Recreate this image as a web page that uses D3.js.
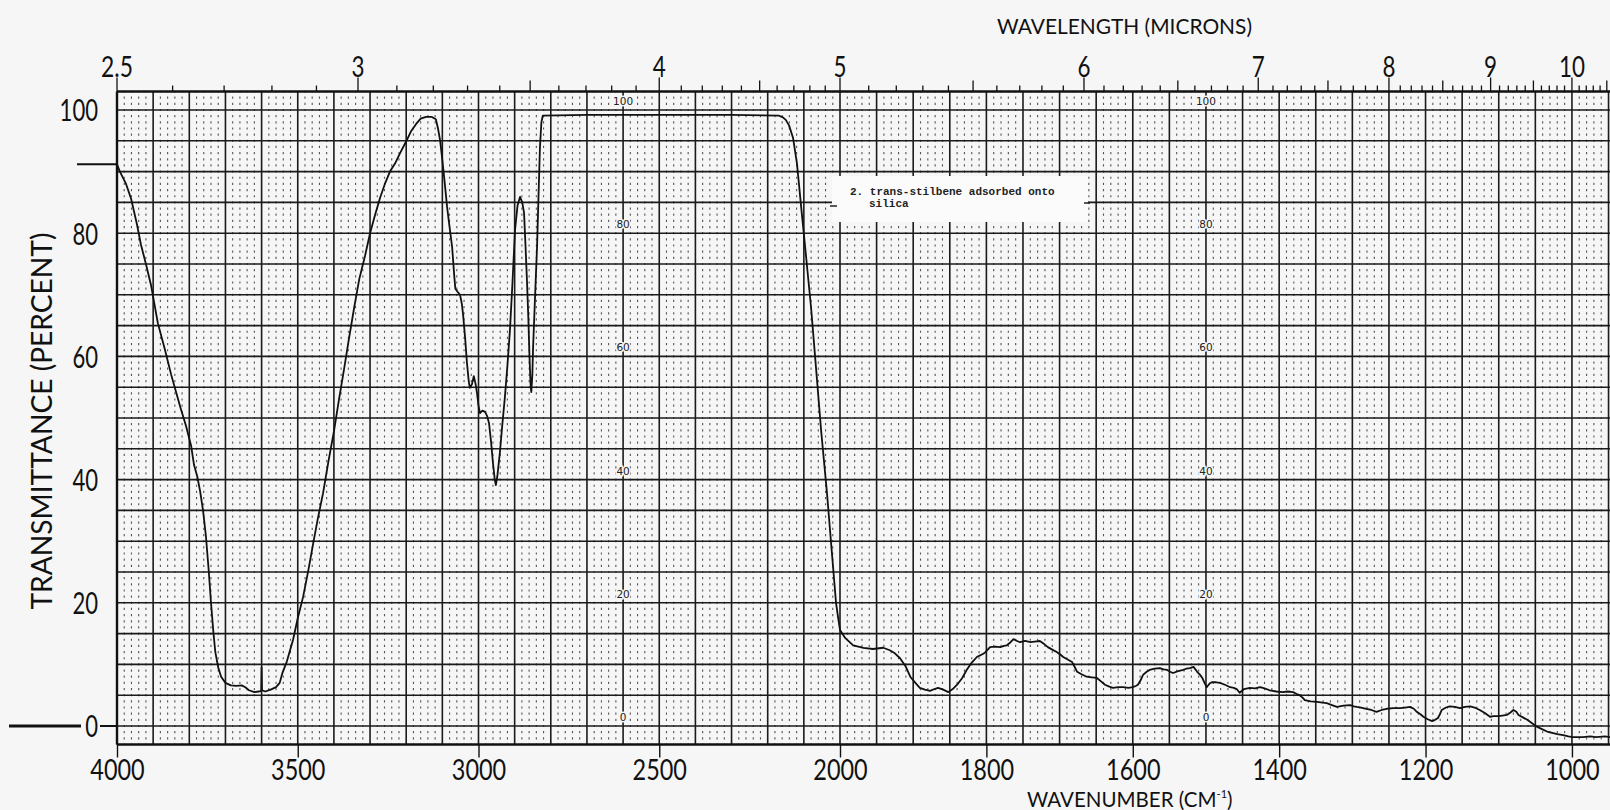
<!DOCTYPE html>
<html><head><meta charset="utf-8">
<script src="https://cdn.jsdelivr.net/npm/d3@7"></script>
<style>html,body{margin:0;padding:0;background:#f6f6f6;overflow:hidden;}svg{display:block;}</style>
</head><body>
<svg id="c" width="1610" height="810"></svg>
<script>
// ---------- data ----------
const wavenumbers = [4000,3992,3975,3961,3945,3934,3920,3906,3887,3867,3850,3840,3825,3809,3795,3787,3778,3770,3762,3754,3746,3740,3733,3728,3720,3712,3700,3685,3670,3655,3645,3635,3620,3608,3601,3600,3599,3590,3575,3560,3550,3543,3530,3513,3500,3485,3470,3458,3445,3430,3415,3400,3386,3372,3358,3344,3330,3314,3300,3286,3272,3259,3245,3231,3217,3201,3187,3173,3160,3145,3130,3118,3112,3106,3101,3094,3087,3080,3073,3067,3064,3058,3051,3046,3043,3037,3032,3027,3024,3018,3013,3008,3004,3000,2996,2989,2982,2976,2971,2965,2960,2955,2952,2948,2941,2934,2927,2920,2913,2906,2899,2892,2885,2879,2874,2870,2866,2862,2859,2856,2854,2851,2849,2844,2838,2834,2830,2826,2822,2700,2500,2300,2170,2158,2150,2141,2130,2119,2108,2094,2080,2066,2052,2036,2022,2011,2005,2000,1993,1982,1968,1955,1941,1932,1925,1918,1910,1904,1897,1891,1884,1877,1871,1866,1859,1852,1846,1840,1833,1827,1820,1813,1808,1802,1795,1788,1781,1776,1772,1767,1763,1758,1754,1747,1740,1734,1727,1721,1716,1710,1704,1699,1695,1689,1683,1679,1676,1670,1663,1656,1649,1643,1638,1632,1627,1620,1613,1606,1600,1596,1593,1589,1586,1581,1577,1570,1563,1558,1553,1549,1545,1538,1531,1527,1522,1517,1512,1508,1505,1502,1499,1495,1492,1486,1481,1474,1467,1462,1458,1454,1448,1440,1433,1426,1420,1413,1404,1395,1388,1381,1376,1372,1368,1365,1357,1348,1341,1335,1328,1321,1312,1303,1298,1294,1288,1281,1274,1267,1260,1253,1244,1235,1228,1221,1216,1212,1207,1203,1197,1191,1187,1183,1180,1178,1172,1167,1160,1153,1146,1139,1133,1126,1119,1112,1107,1101,1095,1089,1084,1080,1076,1073,1067,1061,1055,1048,1041,1034,1027,1020,1012,1005,999,985,975,967,955,948];
const transmittance = [91.2,90,88,85.6,81.5,78.2,75,71.6,65.4,61,57,54.9,51.8,48.7,45.5,42.4,40.5,38.1,35,30.8,25,20,15,12,9.5,8,7,6.6,6.5,6.6,6.3,5.8,5.5,5.6,5.7,9.5,5.8,5.6,5.9,6.3,7,8.5,10.5,14,17.5,21,25.5,29.4,33.5,37.8,43,47.8,53,57.9,63,67.9,72.5,76.3,80,83,85.8,88,90,91.3,93,94.8,96.5,97.7,98.6,98.9,98.9,98.5,97,95,92.4,88.5,84.3,81,77.8,73,71,70.5,70,68.5,67,63,59,56,54.9,55.5,56.8,55.5,54,52,50.8,51.2,51,50.3,49.2,46,42.7,40,39.1,40.5,44.3,49,53.4,58.5,64.3,72,80.5,84.5,85.9,85,83.3,78,72.4,66,60,55.5,54.2,57,61.5,69,77.8,86,94,98,99.1,99.2,99.2,99.2,99.1,98.8,98.4,97.5,95.5,91.3,84.6,76.3,67.9,57.9,47.8,37.8,27.8,20,17.5,15.6,14.3,13.1,12.7,12.5,12.7,12.3,11.8,11,9.6,8,7,6.2,5.9,5.7,6,6.2,5.9,5.5,6,6.7,7.8,9.1,10.3,11.2,11.5,11.9,12.8,12.9,12.8,13,13.1,13.6,14.1,13.8,13.6,13.8,13.6,13.7,13.8,13.3,12.8,12.4,12,11.6,11.2,10.8,10.4,9.5,8.8,8.4,8,7.9,7.8,7.2,6.7,6.4,6.2,6.3,6.3,6.2,6.3,6.5,6.7,7.5,8.3,8.8,9.1,9.3,9.4,9.2,9.1,8.8,8.6,8.9,9.1,9.3,9.4,9.6,8.8,8.3,7.8,7,6.3,6.9,7.1,7.1,7,6.7,6.3,6.2,6,5.4,6,6.2,6.1,6.3,6.1,5.8,5.6,5.5,5.6,5.5,5.2,5,4.6,4.2,4,3.9,3.8,3.7,3.4,3.1,3.3,3.4,3.2,3.1,3,2.8,2.6,2.3,2.6,2.8,2.9,2.9,3,3.1,2.8,2.3,1.9,1.5,1.1,0.8,1,1.3,2,2.6,3,3.2,3.1,2.9,3.1,3.2,3,2.6,2.1,1.5,1.6,1.6,1.7,1.8,2.2,2.6,2.3,1.8,1.4,1,0.5,-0.1,-0.5,-0.9,-1.1,-1.3,-1.5,-1.7,-1.8,-1.8,-1.7,-1.8,-1.7,-1.8];
const wavenumberTicks = [4000,3500,3000,2500,2000,1800,1600,1400,1200,1000];
const micronLabels = [2.5,3,4,5,6,7,8,9,10];
const percentTicks = [0,20,40,60,80,100];
const chartScaleLabels = [0,20,40,60,80,100];
const chartScaleColumns = [2600,1500];
const sampleLabel = ["2. trans-stilbene adsorbed onto","silica"];

// ---------- scales ----------
const svg = d3.select("#c");
const x = d3.scaleLinear().domain([4000,2000,948]).range([117,840,1610]);
const y = d3.scaleLinear().domain([0,100]).range([726,110]);
const yTop = y(103), yBot = y(-3);
const FONT = "Lato, 'Open Sans', sans-serif";
// narrow numeral width (the chart's numerals are condensed)
const numLen = (s,w) => String(s).split("").reduce((a,c)=>a+(c==="."?0.45*w:w),0);

svg.append("rect").attr("width",1610).attr("height",810).attr("fill","#f6f6f6");

// minor dotted verticals
const majorV = d3.range(4000,2000,-100).concat(d3.range(2000,947,-50));
const minorV = d3.range(4000,2000,-20).concat(d3.range(2000,947,-10)).filter(v=>!majorV.includes(v));
const step = y(0)-y(1);
svg.append("g").selectAll("line").data(minorV).join("line")
  .attr("x1",d=>x(d)).attr("x2",d=>x(d)).attr("y1",yTop).attr("y2",yBot)
  .attr("stroke","#555").attr("stroke-width",1.1)
  .attr("stroke-dasharray",`2.2 ${(step-2.2).toFixed(2)}`)
  .attr("stroke-dashoffset",-(step-1.1));

// major grid
const gMaj = svg.append("g").attr("stroke","#1b1b1b").attr("stroke-width",1.6);
gMaj.selectAll("line.v").data(majorV).join("line").attr("class","v")
  .attr("x1",d=>x(d)).attr("x2",d=>x(d)).attr("y1",yTop).attr("y2",yBot);
gMaj.selectAll("line.h").data(d3.range(0,101,5)).join("line").attr("class","h")
  .attr("x1",x(4000)).attr("x2",1610).attr("y1",d=>y(d)).attr("y2",d=>y(d));

// frame
const gF = svg.append("g").attr("stroke","#111").attr("stroke-width",2.4);
gF.append("line").attr("x1",x(4000)).attr("x2",1610).attr("y1",yTop).attr("y2",yTop);
gF.append("line").attr("x1",x(4000)).attr("x2",1610).attr("y1",yBot).attr("y2",yBot);
gF.append("line").attr("x1",x(4000)).attr("x2",x(4000)).attr("y1",yTop).attr("y2",yBot);

// inner chart-scale labels
chartScaleColumns.forEach(c=>{
  svg.append("g").selectAll("text").data(chartScaleLabels).join("text")
    .attr("x",x(c)).attr("y",d=>y(d)-9).attr("text-anchor","middle").attr("dominant-baseline","central")
    .attr("font-family","'DejaVu Sans', sans-serif").attr("font-size",10.5).attr("fill","#222")
    .attr("stroke","#f6f6f6").attr("stroke-width",3).attr("paint-order","stroke")
    .text(d=>d);
});

// sample label box
svg.append("rect").attr("x",832).attr("y",176).attr("width",256).attr("height",46).attr("fill","#fbfbfb");
svg.append("line").attr("x1",830).attr("x2",837).attr("y1",206).attr("y2",206).attr("stroke","#222").attr("stroke-width",1.5);
svg.append("line").attr("x1",1084).attr("x2",1090).attr("y1",203).attr("y2",203).attr("stroke","#222").attr("stroke-width",1.5);
svg.append("g").selectAll("text").data(sampleLabel).join("text")
  .attr("x",(d,i)=>i===0?850:869).attr("y",(d,i)=>195+i*12)
  .attr("font-family","'Liberation Mono', monospace").attr("font-weight","bold").attr("font-size",11).attr("fill","#222")
  .text(d=>d);

// trace
const pts = wavenumbers.map((w,i)=>[w,transmittance[i]]);
svg.append("path").datum(pts)
  .attr("d",d3.line().x(d=>x(d[0])).y(d=>y(d[1])))
  .attr("fill","none").attr("stroke","#111").attr("stroke-width",1.8).attr("stroke-linejoin","round");

// left start marker and zero marker
svg.append("line").attr("x1",77).attr("x2",x(4000)).attr("y1",y(transmittance[0])).attr("y2",y(transmittance[0]))
  .attr("stroke","#111").attr("stroke-width",2);
svg.append("line").attr("x1",9).attr("x2",81).attr("y1",y(0)).attr("y2",y(0)).attr("stroke","#111").attr("stroke-width",3);
svg.append("line").attr("x1",100).attr("x2",x(4000)).attr("y1",y(0)).attr("y2",y(0)).attr("stroke","#111").attr("stroke-width",2);

// bottom axis
const bAxis = d3.axisBottom(x).tickValues(wavenumberTicks).tickSize(13).tickPadding(4).tickFormat(d3.format("d"));
const gb = svg.append("g").attr("transform",`translate(0,${yBot})`).call(bAxis);
gb.select(".domain").remove();
gb.selectAll(".tick line").attr("stroke","#111").attr("stroke-width",1.4);
gb.selectAll(".tick text").attr("font-family",FONT).attr("font-size",28).attr("fill","#111")
  .attr("dy",null).attr("y",36)
  .attr("textLength",d=>numLen(d3.format("d")(d),13.6)).attr("lengthAdjust","spacingAndGlyphs");

// left axis
const lAxis = d3.axisLeft(y).tickValues(percentTicks).tickSize(0).tickPadding(0);
const gl = svg.append("g").attr("transform","translate(99,0)").call(lAxis);
gl.select(".domain").remove();
gl.selectAll(".tick text").attr("font-family",FONT).attr("font-size",30).attr("fill","#111")
  .attr("x",-1).attr("dy","0.36em")
  .attr("textLength",d=>numLen(d,12.8)).attr("lengthAdjust","spacingAndGlyphs");

// top micron ticks
const microns = d3.range(25,106).map(v=>v/10).filter(l=>1e4/l>=948);
svg.append("g").selectAll("line").data(microns).join("line")
  .attr("x1",d=>x(1e4/d)).attr("x2",d=>x(1e4/d)).attr("y1",yTop)
  .attr("y2",d=>{const t=Math.round(d*10); return yTop-(t%10===0||t===25?14:(t%5===0?11:6));})
  .attr("stroke","#111").attr("stroke-width",1.3);
svg.append("g").selectAll("text").data(micronLabels).join("text")
  .attr("x",d=>x(1e4/d)).attr("y",77).attr("text-anchor","middle")
  .attr("font-family",FONT).attr("font-size",29).attr("fill","#111")
  .attr("textLength",d=>numLen(d,13)).attr("lengthAdjust","spacingAndGlyphs").text(d=>d);

// titles
svg.append("text").attr("x",997).attr("y",34).attr("textLength",255).attr("lengthAdjust","spacingAndGlyphs")
  .attr("font-family",FONT).attr("font-size",22).attr("fill","#111").text("WAVELENGTH (MICRONS)");
const wn = svg.append("text").attr("x",1027).attr("y",807).attr("font-family",FONT).attr("font-size",20.5).attr("fill","#111");
wn.append("tspan").text("WAVENUMBER (CM");
wn.append("tspan").attr("font-size",11).attr("dy",-9).text("-1");
wn.append("tspan").attr("dy",9).text(")");
svg.append("text").attr("transform","translate(52,421) rotate(-90)").attr("text-anchor","middle")
  .attr("textLength",377).attr("lengthAdjust","spacingAndGlyphs")
  .attr("font-family",FONT).attr("font-size",28).attr("fill","#111").text("TRANSMITTANCE (PERCENT)");
</script>
</body></html>
